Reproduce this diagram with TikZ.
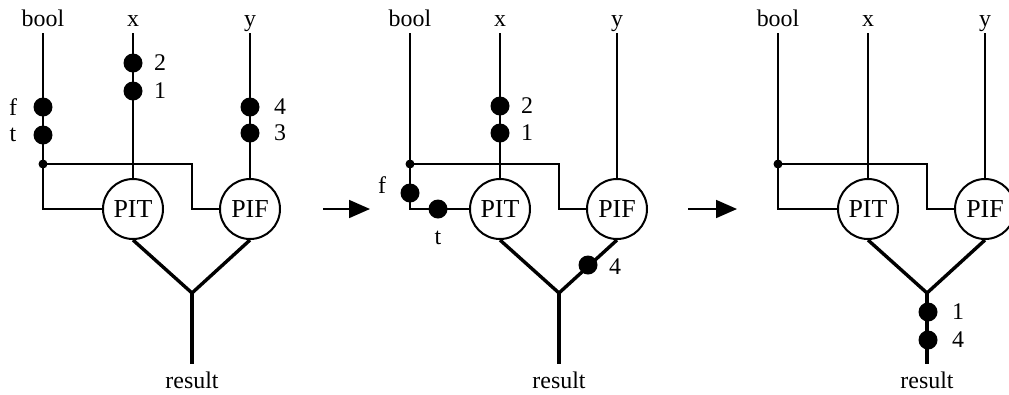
\documentclass[tikz,border=0pt]{standalone}
\usepackage{fontspec}
\setmainfont{Liberation Serif}
\usetikzlibrary{arrows.meta}

\tikzset{
  wire/.style={line width=1.8bp},
  bold/.style={line width=3.4bp},
  proc/.style={circle, draw, line width=2bp, minimum size=60bp, inner sep=0pt, fill=white,
    font=\fontsize{26}{30}\selectfont},
  token/.style={circle, fill=black, minimum size=19bp, inner sep=0pt},
  joint/.style={circle, fill=black, minimum size=9bp, inner sep=0pt},
  lbl/.style={inner sep=0pt, anchor=base},
  tlbl/.style={inner sep=0pt},
  step arrow/.style={line width=1.8bp, -{Triangle[length=21bp,width=18bp]}}
}

\begin{document}
\begin{tikzpicture}[x=1bp, y=-1bp, font=\fontsize{24}{28}\selectfont]
	\useasboundingbox (0,0) rectangle (1009,394);
	% the three snapshots share one net
	\foreach \p/\ox in {1/133, 2/500, 3/868} {
		\begin{scope}[shift={(\ox,0)}]
			\node[lbl] (lbool\p) at (-90,26) {bool};
			\node[lbl] (lx\p) at (0,26) {x};
			\node[lbl] (ly\p) at (117,26) {y};
			\coordinate (btop\p) at (-90,33);
			\coordinate (xtop\p) at (0,33);
			\coordinate (ytop\p) at (117,33);
			\coordinate (jb\p) at (-90,164);
			\coordinate (bus\p) at (59,164);
			\coordinate (vj\p) at (59,293);
			\coordinate (rbot\p) at (59,364);
			\node[proc] (pit\p) at (0,209) {PIT};
			\node[proc] (pif\p) at (117,209) {PIF};
			\draw[wire] (btop\p) |- (pit\p.west);
			\draw[wire] (jb\p) -- (bus\p) |- (pif\p.west);
			\draw[wire] (xtop\p) -- (pit\p.north);
			\draw[wire] (ytop\p) -- (pif\p.north);
			\draw[bold] (pit\p.south) -- (vj\p) -- (pif\p.south);
			\draw[bold] (vj\p) -- (rbot\p);
			\node[joint] (dot\p) at (jb\p) {};
			\node[lbl] (res\p) at (59,388) {result};
		\end{scope}
	}
	% step arrows
	\coordinate (a1s) at (323,209);
	\coordinate (a1e) at (370,209);
	\coordinate (a2s) at (688,209);
	\coordinate (a2e) at (737,209);
	\draw[step arrow] (a1s) -- (a1e);
	\draw[step arrow] (a2s) -- (a2e);
	% tokens, first snapshot
	\node[token] (f1) at (43,107) {};
	\node[token] (t1) at (43,135) {};
	\node[tlbl] at (13,107) {f};
	\node[tlbl] at (13,135) {t};
	\node[token] (x2a) at (133,63) {};
	\node[token] (x1a) at (133,91) {};
	\node[tlbl] at (160,63) {2};
	\node[tlbl] at (160,91) {1};
	\node[token] (y4a) at (250,107) {};
	\node[token] (y3a) at (250,133) {};
	\node[tlbl] at (280,107) {4};
	\node[tlbl] at (280,133) {3};
	% tokens, second snapshot
	\node[token] (f2) at (410,193) {};
	\node[tlbl] at (382,185) {f};
	\node[token] (t2) at (438,209) {};
	\node[tlbl] at (438,238) {t};
	\node[token] (x2b) at (500,106) {};
	\node[token] (x1b) at (500,133) {};
	\node[tlbl] at (527,106) {2};
	\node[tlbl] at (527,133) {1};
	\node[token] (r4b) at (588,265) {};
	\node[tlbl] at (615,267) {4};
	% tokens, third snapshot
	\node[token] (r1c) at (928,312) {};
	\node[token] (r4c) at (928,340) {};
	\node[tlbl] at (958,312) {1};
	\node[tlbl] at (958,340) {4};
\end{tikzpicture}
\end{document}
